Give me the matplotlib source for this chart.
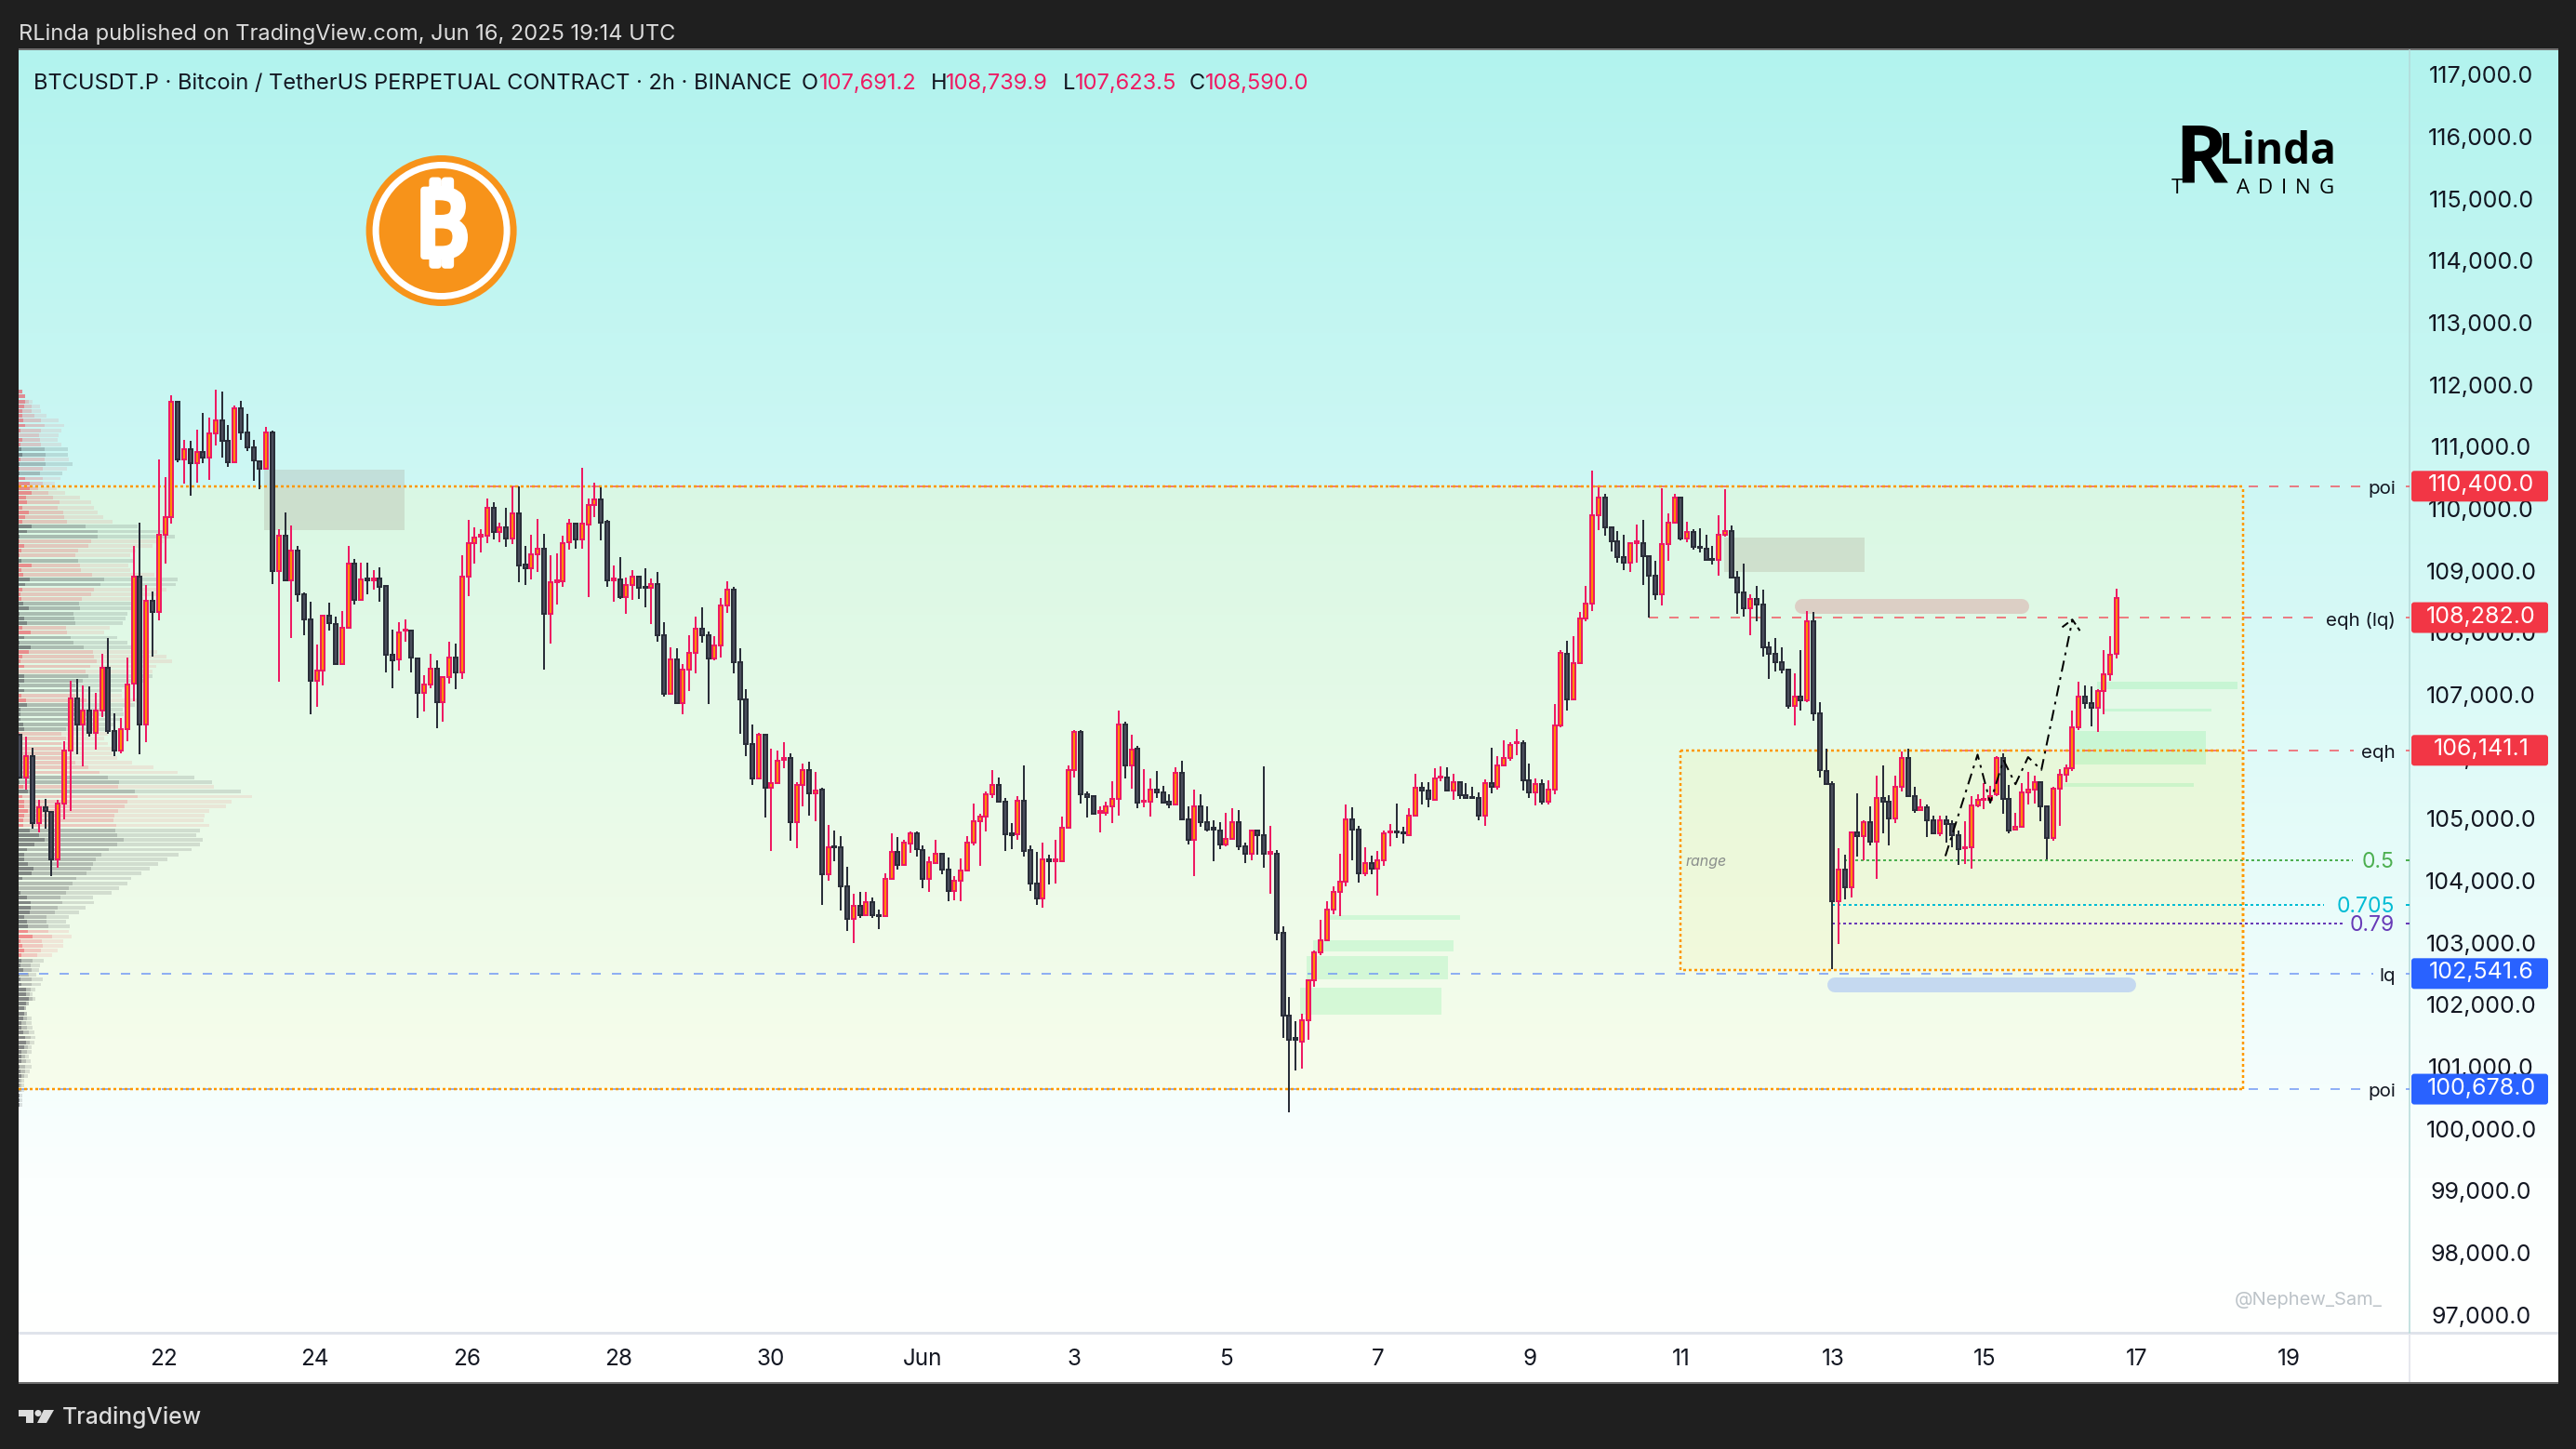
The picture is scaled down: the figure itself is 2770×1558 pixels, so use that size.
import numpy as np
import matplotlib
matplotlib.use("Agg")
import matplotlib.pyplot as plt
import matplotlib.patheffects as pe
from matplotlib.patches import Rectangle, Circle, FancyBboxPatch, Polygon
from matplotlib.transforms import IdentityTransform, ScaledTranslation

plt.rcParams['font.family'] = ['Inter', 'DejaVu Sans', 'Noto Sans']

# ---------- candle data (2h bars) ----------
opens = [
106400,105710,106055,104975,105220,105150,104390,105290,106140,106975,
106560,106790,106430,106790,107480,106455,106140,106485,107215,108935,
106560,108545,108370,109610,109895,111755,110835,111000,110765,110945,
110865,111245,111460,111135,110790,111660,111270,111030,110800,110685,
111270,109030,109595,108885,109355,108650,108250,107270,107430,108305,
108180,107535,108120,109145,108560,108910,108885,108910,108785,107685,
107605,108065,108065,107630,107075,107200,107465,106925,107320,107645,
107405,108940,109485,109585,109595,110045,109660,109730,109550,109960,
109130,109070,109300,109385,108345,108855,108860,109495,109790,109535,
109785,110090,110180,109820,108885,108890,108615,108800,108935,108770,
108755,108815,108000,107060,107610,106900,107440,107720,108100,107990,
107630,107840,108470,108735,107570,106970,106250,105695,106400,105535,
105620,105985,106025,104985,105580,105820,105445,105505,104140,104600,
104585,103945,103420,103640,103480,103700,103490,103465,104065,104500,
104300,104645,104810,104540,104075,104325,104480,104225,103880,104035,
104210,104660,105005,105070,105440,105580,105320,104800,104785,105335,
104530,104000,103760,104390,104355,104355,104890,105820,106445,105440,
105410,105135,105130,105235,105360,106555,105895,106175,105320,105320,
105510,105470,105310,105265,105785,105035,104695,105245,104985,104890,
104855,104625,104720,104990,104600,104470,104855,104770,104480,104480,
103195,101868,101498,101448,101788,102438,102888,103078,103578,103858,
104023,105033,104863,104163,104328,104233,104373,104823,104838,104823,
104778,105093,105543,105493,105348,105708,105708,105493,105628,105423,
105393,105373,105093,105613,105558,105903,106018,106258,106263,105658,
105468,105598,105313,105513,106545,107700,106960,107555,108265,108510,
109935,110220,109735,109515,109260,109170,109480,109485,109265,108960,
108660,109460,109805,110220,109555,109655,109425,109395,109230,109210,
109620,109675,108930,108680,108435,108585,108485,107805,107695,107565,
107440,106860,107010,106950,108225,106745,105815,105595,103705,104220,
103930,104815,104765,104985,104665,105370,105320,105050,105555,106015,
105400,105180,105230,105010,104800,105010,104960,104770,104560,104580,
105250,105345,105345,105430,106025,105365,104860,104905,105465,105510,
105625,105240,104735,105525,105745,105850,106515,107010,106905,106830,107100,107370,107691]

closes = [
105710,106055,104975,105220,105165,104390,105290,106140,106975,106560,
106790,106430,106790,107480,106455,106140,106485,107200,108935,106560,
108545,108370,109610,109895,111755,110835,111000,110765,110945,110865,
111245,111460,111135,110790,111660,111270,111030,110815,110675,111270,
109030,109595,108885,109355,108650,108250,107270,107430,108305,108190,
107535,108120,109145,108560,108890,108885,108910,108780,107685,107600,
108035,108080,107635,107075,107200,107465,106925,107320,107645,107405,
108940,109485,109575,109610,110045,109660,109730,109550,109960,109125,
109070,109300,109385,108345,108845,108880,109485,109790,109535,109790,
110090,110180,109815,108875,108910,108615,108800,108935,108755,108755,
108820,108000,107060,107610,106900,107440,107720,108100,107995,107630,
107840,108470,108735,107570,106970,106250,105695,106400,105535,105620,
105980,106020,104985,105580,105820,105445,105500,104140,104585,104585,
103945,103420,103640,103480,103700,103490,103465,104065,104500,104300,
104650,104810,104545,104075,104340,104480,104225,103880,104035,104210,
104660,105005,105070,105440,105580,105320,104785,104780,105335,104520,
104000,103760,104390,104355,104380,104890,105820,106445,105440,105395,
105125,105160,105235,105360,106555,105895,106160,105305,105335,105510,
105470,105305,105265,105785,105035,104695,105245,104985,104870,104870,
104625,104720,104990,104590,104470,104855,104770,104470,104500,103195,
101863,101478,101478,101788,102438,102888,103078,103578,103858,104023,
105033,104863,104163,104328,104233,104368,104808,104838,104823,104808,
105093,105543,105493,105358,105688,105723,105493,105628,105423,105373,
105373,105093,105613,105558,105898,106023,106233,106278,105658,105468,
105603,105313,105513,106548,107710,106960,107555,108265,108510,109935,
110220,109740,109515,109260,109165,109475,109505,109265,108960,108660,
109460,109805,110220,109550,109655,109415,109405,109210,109210,109620,
109680,108925,108680,108435,108585,108485,107805,107695,107565,107440,
106860,107010,106950,108225,106745,105825,105595,103705,104220,103930,
104815,104765,104985,104665,105370,105320,105050,105555,106015,105400,
105180,105230,105020,104810,105020,104960,104780,104550,104580,105255,
105350,105360,105410,106025,105365,104855,104905,105465,105510,105625,
105240,104735,105525,105745,105850,106515,107010,106905,106830,107100,107370,107685,108590]

highs = [
106400,106370,106180,105350,105365,105150,105350,106295,107260,107290,
107185,107170,107070,107700,107950,106745,106670,107635,109430,109810,
108800,108695,110830,110545,111865,111780,111145,111125,111315,111580,
111510,111955,111925,111380,111700,111780,111565,111145,110815,111360,
111290,109700,109975,109765,109435,108685,108535,107845,108320,108520,
108295,108380,109435,109225,109165,109165,109040,109090,108785,108080,
108205,108255,108090,107645,107350,107700,107595,107330,107890,107865,
109285,109855,109735,109705,110200,110140,109810,110050,110400,110400,
109435,109615,109870,109630,109285,109315,109595,109870,109810,110700,
110200,110455,110385,109855,109120,109260,108925,109040,108955,109075,
108915,109015,108200,107800,107785,107540,107995,108300,108450,108060,
107985,108590,108870,108775,107790,107125,106565,106420,106405,106175,
106135,106275,106095,105630,105935,105955,105790,105535,104945,104850,
104760,104265,103830,103855,103855,103765,103570,104155,104800,104740,
104700,104830,104830,104610,104430,104700,104480,104415,104115,104395,
104760,105280,105115,105475,105825,105705,105370,104970,105400,105895,
104615,104510,104655,104460,104700,105075,105900,106470,106470,105475,
105420,105240,105315,105640,106785,106610,106395,106215,105835,105690,
105810,105565,105435,105865,105975,105235,105505,105430,105245,105010,
104980,105130,105215,105175,104655,104870,104855,105885,104925,104540,
103305,102158,101773,101888,102453,102913,103413,103713,103953,104478,
105273,105228,104928,104573,104438,104523,104853,104948,105288,104913,
105213,105758,105633,105623,105848,105878,105863,105758,105628,105608,
105548,105458,105668,106188,106043,106298,106278,106478,106308,105923,
105683,105678,105663,106883,107765,107910,107980,108370,108785,110645,
110375,110275,109740,109680,109620,109485,109785,109850,109290,109200,
110360,109960,110270,110235,109820,109705,109715,109615,109430,109935,
110350,109770,109030,109155,108655,108785,108730,107890,107950,107800,
107450,107390,107765,108390,108370,106920,106170,105640,104570,104455,
104840,105450,105010,105240,105740,105900,105425,105740,106130,106170,
105555,105355,105270,105085,105085,105085,105010,104850,105000,105410,
105430,105620,105575,106045,106100,105585,105140,105615,105800,105730,
105640,105240,105555,105840,105915,106780,107245,107190,107180,107135,107755,107980,108740]

lows = [
105710,105510,104880,104820,104880,104115,104245,105035,105165,106085,
105880,106360,106160,106675,106410,106045,106095,106285,106935,106085,
106275,107660,108235,109155,109800,110780,110440,110245,110455,110775,
110505,111050,110860,110715,110790,111145,110970,110485,110350,110685,
108820,107245,108865,107950,108535,108000,106720,106840,107185,108070,
107520,107535,108120,108490,108560,108655,108730,108535,107400,107140,
107425,107890,107400,106665,106765,107140,106495,106600,107215,107130,
107290,108625,109150,109330,109480,109540,109495,109420,109465,108850,
108805,108895,109015,107440,107865,108490,108775,109380,109390,109390,
108610,109900,109525,108775,108535,108580,108340,108565,108580,108450,
108180,107895,107015,107060,106900,106725,107100,107380,107880,106885,
107600,107640,108360,107380,106405,106050,105585,105695,105055,104515,
105600,105855,104685,104565,105240,105090,105000,103650,104040,104350,
103560,103225,103030,103435,103480,103435,103260,103465,104065,104220,
104300,104490,104430,103920,103855,104325,104145,103705,103725,103705,
104210,104615,104280,104830,105370,105305,104515,104545,104700,104430,
103880,103650,103610,103985,103995,104355,104890,105705,105285,105055,
105100,104815,105090,104970,105090,105690,105520,105205,105225,105075,
105370,105305,105205,105265,105035,104625,104115,104905,104830,104350,
104555,104590,104720,104535,104320,104365,104465,104245,103830,103075,
101498,100303,100978,101003,101473,102328,102838,103078,103498,103463,
103948,104363,104003,104108,104138,103798,104273,104588,104723,104633,
104778,105093,105263,105218,105348,105638,105473,105343,105353,105353,
105353,105008,104923,105443,105503,105903,105973,106058,105498,105368,
105248,105273,105268,105428,106515,106790,106960,107555,108225,108380,
109690,109600,109345,109160,109040,109015,109160,108810,108280,108565,
108470,109200,109805,109525,109500,109370,109330,109190,109130,108955,
109590,108915,108340,108295,107995,108215,107650,107300,107420,107390,
106820,106545,106790,106925,106620,105700,105595,102610,103020,103735,
103765,104435,104365,104610,104065,104810,104610,104970,105485,105385,
105140,105170,104740,104800,104765,104650,104580,104290,104310,104235,
105220,105200,105295,105410,105125,104810,104860,104905,105270,105280,
105000,104390,104685,104925,105625,105815,106470,106820,106530,106445,106720,107260,107623]

# ---------- volume profile (top row to bottom row) ----------
profile_side = ("ppppppppppppggpgpgppppppppppgggpppp" "gpppggpppggggg" "pp"
                "ggg" "ppppp" "ggggpp" "gggggg" "ppppppppp" "gg" "p" "g" "p" "pppppp"
                "ggggggggggggggggg" "gggg" "pppppp" + "g" * 31 + "ppp")
profile_strong = [4,7,7,6,4,4,5,7,2,0,4,2,3,4,2,1,1,1,7,12,12,14,8,9,4,11,7,4,14,9,1,1,6,3,1,3,14,3,5,12,7,4,2,3,5,11,1,6,9,
 4,13,6,1,13,11,4,2,6,0,6,6,1,6,3,8,9,2,2,2,5,6,1,1,1,1,1,1,1,1,1,1,1,5,10,4,6,6,10,6,5,5,12,22,28,17,9,6,6,10,
 16,14,4,0,0,2,9,13,13,12,6,9,10,10,15,2,4,6,3,3,2,5,1,2,3,8,8,11,8,6,6,5,3,3,5,7,8,6,3,3,3,1,2,3,1,1,1,1,1,1]
profile_mid = [4,7,11,14,14,17,24,28,24,22,23,24,28,29,28,29,26,23,26,26,21,32,37,44,42,48,49,52,72,85,85,78,75,64,61,64,66,67,79,92,88,81,78,68,65,66,59,60,61,
 51,52,56,59,70,80,81,84,77,72,75,69,61,64,61,73,66,66,63,61,53,51,46,51,46,46,51,56,61,75,87,96,108,107,125,128,117,114,107,103,102,105,104,106,113,106,97,89,83,80,
 78,73,62,58,54,51,45,47,42,39,30,30,32,32,36,25,26,24,20,15,13,14,11,14,14,13,12,15,11,8,9,9,8,9,11,13,12,10,9,7,8,7,7,6,3,3,3,1,1,1]
profile_total = [4,7,15,23,24,30,43,49,46,43,42,46,53,53,54,58,52,47,45,39,41,50,66,78,81,85,91,101,128,161,168,156,144,126,120,125,118,120,146,171,169,159,154,134,128,127,117,115,112,
 98,92,106,117,121,149,159,165,148,144,144,136,116,111,111,132,125,112,113,109,103,99,96,92,96,106,101,106,122,145,171,189,208,210,239,251,229,223,205,200,199,205,195,191,198,195,186,172,160,150,
 141,132,121,117,108,100,80,81,72,65,54,51,55,54,57,48,48,42,36,27,23,22,19,26,24,18,15,18,11,8,9,14,14,15,17,18,17,14,14,11,13,14,12,10,6,6,6,4,4,4]
profile_top_price = 111923
profile_bin = 77.7

# ---------- axis / annotation values ----------
price_ticks = list(range(97000, 118000, 1000))
date_labels = ["22","24","26","28","30","Jun","3","5","7","9","11","13","15","17","19"]
date_first_bar = 22.7
date_step_bars = 24.04

poi_high, poi_low = 110400.0, 100678.0
range_high, range_low = 106141.1, 102597.0
zone_right_bar = 352.1
range_left_bar = 263.0

level_names  = ["poi", "eqh (lq)", "eqh", "lq", "poi"]
level_prices = [110400.0, 108282.0, 106141.1, 102541.6, 100678.0]
level_starts = [71, 258, 301, -0.2, -0.2]
level_ends   = [370.6, 363.2, 369.6, 372.7, 370.6]
level_kinds  = ["r", "r", "r", "b", "b"]

fib_names  = ["0.5", "0.705", "0.79"]
fib_prices = [104369, 103646, 103347]
fib_starts = [288.9, 287, 287]
fib_ends   = [369.4, 364.9, 367.8]
fib_colors = ["#4CAF50", "#00BCD4", "#673AB7"]

gray_x0 = [38.7, 269.9]; gray_x1 = [60.9, 292.1]
gray_top = [110669, 109571]; gray_bot = [109693, 109013]

fvg_x0  = [207.3, 204.8, 203.8, 202.7, 328.9, 329.8, 325.4, 323.6]
fvg_x1  = [228.1, 227.0, 226.2, 225.1, 351.2, 347.1, 346.2, 344.3]
fvg_top = [103483, 103079, 102824, 102314, 107246, 106811, 106451, 105612]
fvg_bot = [103408, 102899, 102449, 101879, 107126, 106766, 105912, 105552]

path_bars   = [304.9, 310, 312, 314.1, 316, 318, 320.1, 325]
path_prices = [104436, 106072, 105297, 105986, 105595, 106032, 105825, 108236]
head_bars   = [323.4, 325, 326.2]
head_prices = [108127, 108250, 108070]

# ---------- layout ----------
W, H = 2770, 1558
DPI = 100
PX = 72.0 / DPI
L, T, AXR, R, B, PB = 20, 54, 2591, 2751, 1433, 1487
fig = plt.figure(figsize=(W / DPI, H / DPI), dpi=DPI, facecolor="#1f1f1f")

def axes_px(l, t, r, b, **kw):
    return fig.add_axes([l / W, 1 - b / H, (r - l) / W, (b - t) / H], **kw)

def ftext(x, y, s, **kw):
    kw.setdefault("va", "center")
    return fig.text(x / W, 1 - y / H, s, **kw)

# gradient background
bg = axes_px(L, T, R, B, zorder=0)
bg.axis("off")
stop_pos = [0.0, 0.88, 1.0]
stop_r, stop_g, stop_b = [178, 251, 255], [243, 255, 255], [238, 254, 255]
t = np.linspace(0, 1, 512)
grad = np.stack([np.interp(t, stop_pos, stop_r), np.interp(t, stop_pos, stop_g), np.interp(t, stop_pos, stop_b)], axis=1)[:, None, :] / 255
bg.imshow(grad, aspect="auto", interpolation="bilinear")

# time panel
tp = axes_px(L, B, R, PB, zorder=0)
tp.set_facecolor("white"); tp.set_xticks([]); tp.set_yticks([])
for s in tp.spines.values():
    s.set_visible(False)
fig.add_artist(Rectangle((L, H - B - 1.5), R - L, 3, transform=IdentityTransform(), fc="#E0E3EB", ec="none", zorder=1))
fig.add_artist(Rectangle((AXR - 1, H - PB), 1.5, PB - B, transform=IdentityTransform(), fc="#E6E8EE", ec="none", zorder=1))
fig.add_artist(Rectangle((L, H - PB - 1), R - L, 2, transform=IdentityTransform(), fc="#707070", ec="none", zorder=1))
fig.add_artist(Rectangle((L, H - T), R - L, 2, transform=IdentityTransform(), fc="#707070", ec="none", zorder=1))

# main axes
ax = axes_px(L, T, AXR, B, zorder=2)
ax.patch.set_visible(False)
ax.set_xlim(-0.206, 378.4)
ax.set_ylim(96749.7, 117430.6)
for k in ("top", "left", "bottom"):
    ax.spines[k].set_visible(False)
ax.spines["right"].set_color("#B4D9D8")
ax.spines["right"].set_linewidth(1.5 * PX)

ax.yaxis.tick_right()
ax.set_yticks(price_ticks)
ax.set_yticklabels([f"{p:,.1f}" for p in price_ticks], fontsize=18, color="#131722", ha="center")
ax.tick_params(axis="y", length=0, pad=77 * PX)
up_shift = ScaledTranslation(0, 2.5 / DPI, fig.dpi_scale_trans)
for lab in ax.get_yticklabels():
    lab.set_transform(lab.get_transform() + up_shift)
ax.set_xticks([date_first_bar + date_step_bars * i for i in range(len(date_labels))])
ax.set_xticklabels(date_labels, fontsize=17.5, color="#131722", va="center")
ax.tick_params(axis="x", length=0, pad=29 * PX)

LW2 = 2 * PX
ORANGE = "#FF9800"

# zones
ax.add_patch(Rectangle((-0.206, poi_low), zone_right_bar + 0.206, poi_high - poi_low, fc=(1, 0.98, 0.70), alpha=0.23, ec="none", zorder=1))
ax.add_patch(Rectangle((range_left_bar, range_low), zone_right_bar - range_left_bar, range_high - range_low, fc="#FFEB3B", alpha=0.08, ec="none", zorder=1))
for x0, x1, a, b in zip(gray_x0, gray_x1, gray_top, gray_bot):
    ax.add_patch(Rectangle((x0, b), x1 - x0, a - b, fc=(0.55, 0.42, 0.36), alpha=0.17, ec="none", zorder=2))
for x0, x1, a, b in zip(fvg_x0, fvg_x1, fvg_top, fvg_bot):
    ax.add_patch(Rectangle((x0, b), x1 - x0, a - b, fc=(0.30, 0.90, 0.50), alpha=0.18, ec="none", zorder=2))

# pills
ax.plot([282.3, 317.0], [108463, 108463], color="#DCCFC5", lw=16 * PX, solid_capstyle="round", zorder=2)
ax.plot([287.4, 333.9], [102357, 102357], color="#C5D9F0", lw=16 * PX, solid_capstyle="round", zorder=2)

# volume profile
side = np.array(list(profile_side))
n_rows = min(len(side), len(profile_total))
side = side[:n_rows]
levels = profile_top_price - profile_bin * np.arange(n_rows)
PXB = 1 / 6.79
ptot = np.array(profile_total[:n_rows]) * PXB
pmid = np.array(profile_mid[:n_rows]) * PXB
pstr = np.array(profile_strong[:n_rows]) * PXB
for mask, col, alphas in ((side == "p", (0.95, 0.21, 0.27), (0.10, 0.16, 0.40)),
                          (side == "g", (0.24, 0.24, 0.27), (0.15, 0.20, 0.42))):
    for w, a in zip((ptot, pmid, pstr), alphas):
        ax.barh(levels[mask], w[mask], left=-0.206, height=58, color=col, alpha=a, lw=0, zorder=2.5)

# box borders / levels
DOT = (0, (1.2, 1.2))
LWO = 2.5 * PX
DASH = (0, (5, 6))
for p in (poi_high, poi_low):
    ax.plot([-0.206, zone_right_bar], [p, p], color=ORANGE, lw=LWO, ls=DOT, zorder=3.2)
ax.plot([zone_right_bar, zone_right_bar], [poi_low, poi_high], color=ORANGE, lw=LWO, ls=DOT, zorder=3.2)
ax.plot([range_left_bar, zone_right_bar, zone_right_bar, range_left_bar, range_left_bar],
        [range_high, range_high, range_low, range_low, range_high], color=ORANGE, lw=LWO, ls=DOT, zorder=3.2)

kinds = {"r": ("#F2535F", "#F23645"), "b": ("#6E96F5", "#2962FF")}
for name, p, x0, x1, k in zip(level_names, level_prices, level_starts, level_ends, level_kinds):
    c = kinds[k][0]
    ax.plot([x0, x1], [p, p], color=c, lw=LW2, ls=DASH, alpha=0.75, zorder=3)
    ax.plot([378.0, 378.4], [p, p], color=c, lw=LW2, alpha=0.75, zorder=3)
    ax.text(376.2, p - 50, name, ha="right", va="center", fontsize=14.8, color="#131722", zorder=4)

for name, p, x0, x1, c in zip(fib_names, fib_prices, fib_starts, fib_ends, fib_colors):
    ax.plot([x0, x1], [p, p], color=c, lw=LW2, ls=(0, (1.5, 1.5)), zorder=3)
    ax.plot([378.0, 378.4], [p, p], color=c, lw=LW2, zorder=3)
    ax.text(376.0, p - 30, name, ha="right", va="center", fontsize=16.5, color=c, zorder=4)

ax.text(263.7, 104340, "range", style="italic", fontsize=11.5, color="#8a8f8c", va="center", zorder=4)

# candles
o, h, l, c = map(np.array, (opens, highs, lows, closes))
x = np.arange(len(o))
up = c >= o
edge = np.where(up, "#EE1A62", "#2A2E39")
fill = np.where(up, "#FF8C00", "#4A4E5C")
ax.vlines(x, l, h, colors=edge, lw=LW2, zorder=5)
ax.bar(x, np.abs(c - o), bottom=np.minimum(o, c), width=0.59, color=fill, edgecolor=edge, linewidth=LW2, zorder=6)

# projected path
ax.plot(path_bars, path_prices, color="black", lw=LW2, ls=(0, (6, 3, 1.5, 3)), zorder=7)
ax.plot(head_bars, head_prices, color="black", lw=LW2, ls=(0, (4, 2)), zorder=7)

fig.canvas.draw()

# price boxes over the scale
boxes = {"r": "#F23645", "b": "#2962FF"}
for p, k in zip(level_prices, level_kinds):
    yd = ax.transData.transform((0, p))[1]
    fig.add_artist(FancyBboxPatch((AXR + 4, yd - 14.5), 143, 29, boxstyle="round,pad=2,rounding_size=3",
                                  transform=IdentityTransform(), fc=boxes[k], ec="none", zorder=4))
    fig.text(2668 / W, (yd + 1) / H, f"{p:,.1f}", color="white", fontsize=18, ha="center", va="center", zorder=5)

# header
ftext(20, 37, "RLinda published on TradingView.com, Jun 16, 2025 19:14 UTC", color="#DCDCDC", fontsize=17, zorder=5)
HD = "#131722"; PK = "#EE1A62"
ftext(36, 90, "BTCUSDT.P · Bitcoin / TetherUS PERPETUAL CONTRACT · 2h · BINANCE", color=HD, fontsize=17, zorder=5)
for xa, lab, xb, val in ((862, "O", 881, "107,691.2"), (1001, "H", 1017, "108,739.9"),
                         (1143, "L", 1156, "107,623.5"), (1279, "C", 1296, "108,590.0")):
    ftext(xa, 90, lab, color=HD, fontsize=17, zorder=5)
    ftext(xb, 90, val, color=PK, fontsize=17, zorder=5)

# bitcoin badge
cx, cy = 474.6, H - 248
for r, col in ((81, "#F7931A"), (74, "white"), (67, "#F7931A")):
    fig.add_artist(Circle((cx, cy), r, transform=IdentityTransform(), fc=col, ec="none", zorder=3))
fig.text(cx / W, cy / H, "\u20bf", color="white", fontsize=72, fontweight="bold", ha="center", va="center",
         family=["DejaVu Sans", "Noto Sans"], zorder=4,
         path_effects=[pe.withStroke(linewidth=5, foreground="white")])

# RLinda logo
ftext(2338, 174, "R", color="black", fontsize=62, fontweight="bold", family="Open Sans", zorder=5)
ftext(2386, 164, "Linda", color="black", fontsize=33, fontweight="bold", family="Open Sans", zorder=5)
ftext(2335, 203, "T", color="black", fontsize=16, family="Open Sans", zorder=5)
for xp, ch in zip((2405, 2428, 2453, 2468, 2494), "ADING"):
    ftext(xp, 203, ch, color="black", fontsize=16, family="Open Sans", zorder=5)

# watermark, footer
ftext(2403, 1398, "@Nephew_Sam_", color="#BCC3C8", fontsize=14.5, zorder=5)
ftext(67, 1524, "TradingView", color="#DCDCDC", fontsize=17.8, fontweight="medium", zorder=5)
yb = H - 1523
fig.add_artist(Polygon([(20, yb + 7), (36, yb + 7), (36, yb - 7), (28, yb - 7), (28, yb), (20, yb)],
                       transform=IdentityTransform(), fc="#DCDCDC", ec="none", zorder=5))
fig.add_artist(Circle((41, yb + 3.5), 3.5, transform=IdentityTransform(), fc="#DCDCDC", ec="none", zorder=5))
fig.add_artist(Polygon([(47, yb + 7), (58, yb + 7), (50, yb - 7), (40, yb - 7)],
                       transform=IdentityTransform(), fc="#DCDCDC", ec="none", zorder=5))

fig.savefig("out.png", dpi=DPI, facecolor=fig.get_facecolor())
